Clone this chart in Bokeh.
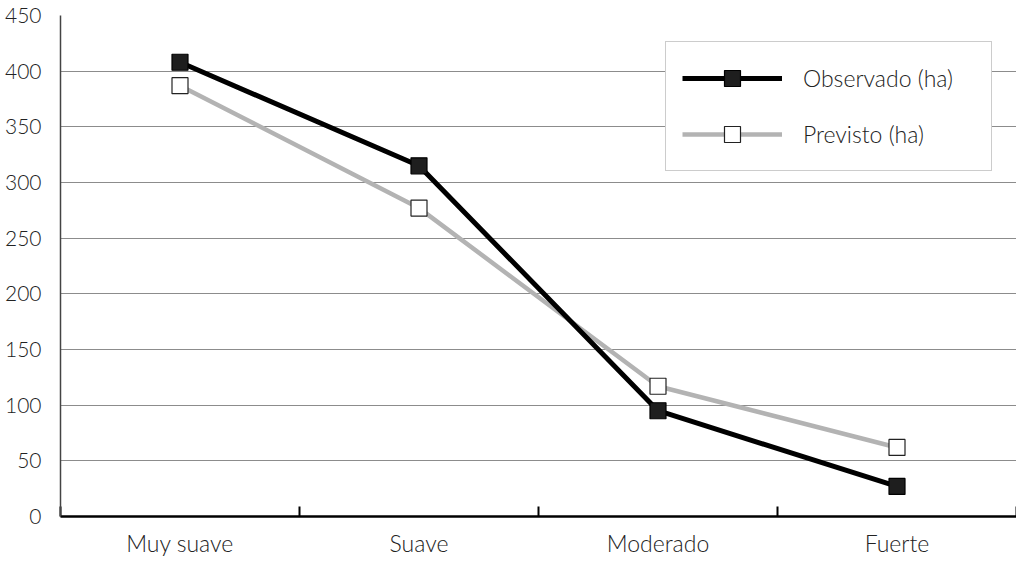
from bokeh.plotting import figure
from bokeh.models import ColumnDataSource, FixedTicker, Range1d, Legend, LegendItem
from bokeh.embed import file_html
from bokeh.resources import INLINE

categories = ["Muy suave", "Suave", "Moderado", "Fuerte"]
observado = [408, 315, 95, 27]
previsto = [387, 277, 117, 62]
y_ticks = [0, 50, 100, 150, 200, 250, 300, 350, 400, 450]

xpos = [i + 0.5 for i in range(len(categories))]
src = ColumnDataSource(dict(x=xpos, obs=observado, prev=previsto))

FONT = "Lato Light"

p = figure(width=1016, height=563, output_backend="svg", toolbar_location=None,
           x_range=Range1d(0, len(categories)), y_range=Range1d(0, 450),
           min_border_left=60, min_border_right=0, min_border_top=15, min_border_bottom=47)
p.outline_line_color = None
p.background_fill_color = "white"

# x axis
p.xaxis.ticker = FixedTicker(ticks=xpos, minor_ticks=list(range(len(categories) + 1)))
p.xaxis.major_label_overrides = {x: c for x, c in zip(xpos, categories)}
p.xaxis.major_tick_line_color = None
p.xaxis.minor_tick_in = 10
p.xaxis.minor_tick_out = 0
p.xaxis.minor_tick_line_color = "black"
p.xaxis.minor_tick_line_width = 2
p.xaxis.axis_line_color = "black"
p.xaxis.axis_line_width = 2.5
p.xaxis.major_label_text_font = FONT
p.xaxis.major_label_text_font_size = "23px"
p.xaxis.major_label_text_color = "#222222"
p.xaxis.major_label_standoff = 6
p.xgrid.grid_line_color = None

# y axis
p.yaxis.ticker = FixedTicker(ticks=y_ticks)
p.yaxis.major_tick_line_color = None
p.yaxis.minor_tick_line_color = None
p.yaxis.axis_line_color = "#444444"
p.yaxis.axis_line_width = 1.5
p.yaxis.major_label_text_font = FONT
p.yaxis.major_label_text_font_size = "21px"
p.yaxis.major_label_text_color = "#222222"
p.yaxis.major_label_standoff = 13
p.ygrid.grid_line_color = "#8c8c8c"
p.ygrid.grid_line_width = 1

# series
l2 = p.line("x", "prev", source=src, line_color="#b3b3b3", line_width=4.5)
s2 = p.scatter("x", "prev", source=src, marker="square", size=16,
               fill_color="white", line_color="#222222", line_width=1.2)
l1 = p.line("x", "obs", source=src, line_color="black", line_width=5)
s1 = p.scatter("x", "obs", source=src, marker="square", size=16,
               fill_color="#1e1e1e", line_color="black", line_width=1.2)

legend = Legend(items=[LegendItem(label="Observado (ha)", renderers=[l1, s1]),
                       LegendItem(label="Previsto (ha)", renderers=[l2, s2])],
                location=(605, 345))
legend.glyph_width = 100
legend.glyph_height = 40
legend.label_height = 40
legend.label_width = 172
legend.label_standoff = 21
legend.spacing = 16
legend.padding = 16
legend.margin = 0
legend.border_line_color = "#9a9a9a"
legend.border_line_width = 1.5
legend.background_fill_color = "white"
legend.background_fill_alpha = 1
legend.label_text_font = FONT
legend.label_text_font_size = "23px"
legend.label_text_color = "#222222"
p.add_layout(legend, "center")

open("out.html", "w").write(file_html(p, INLINE))
